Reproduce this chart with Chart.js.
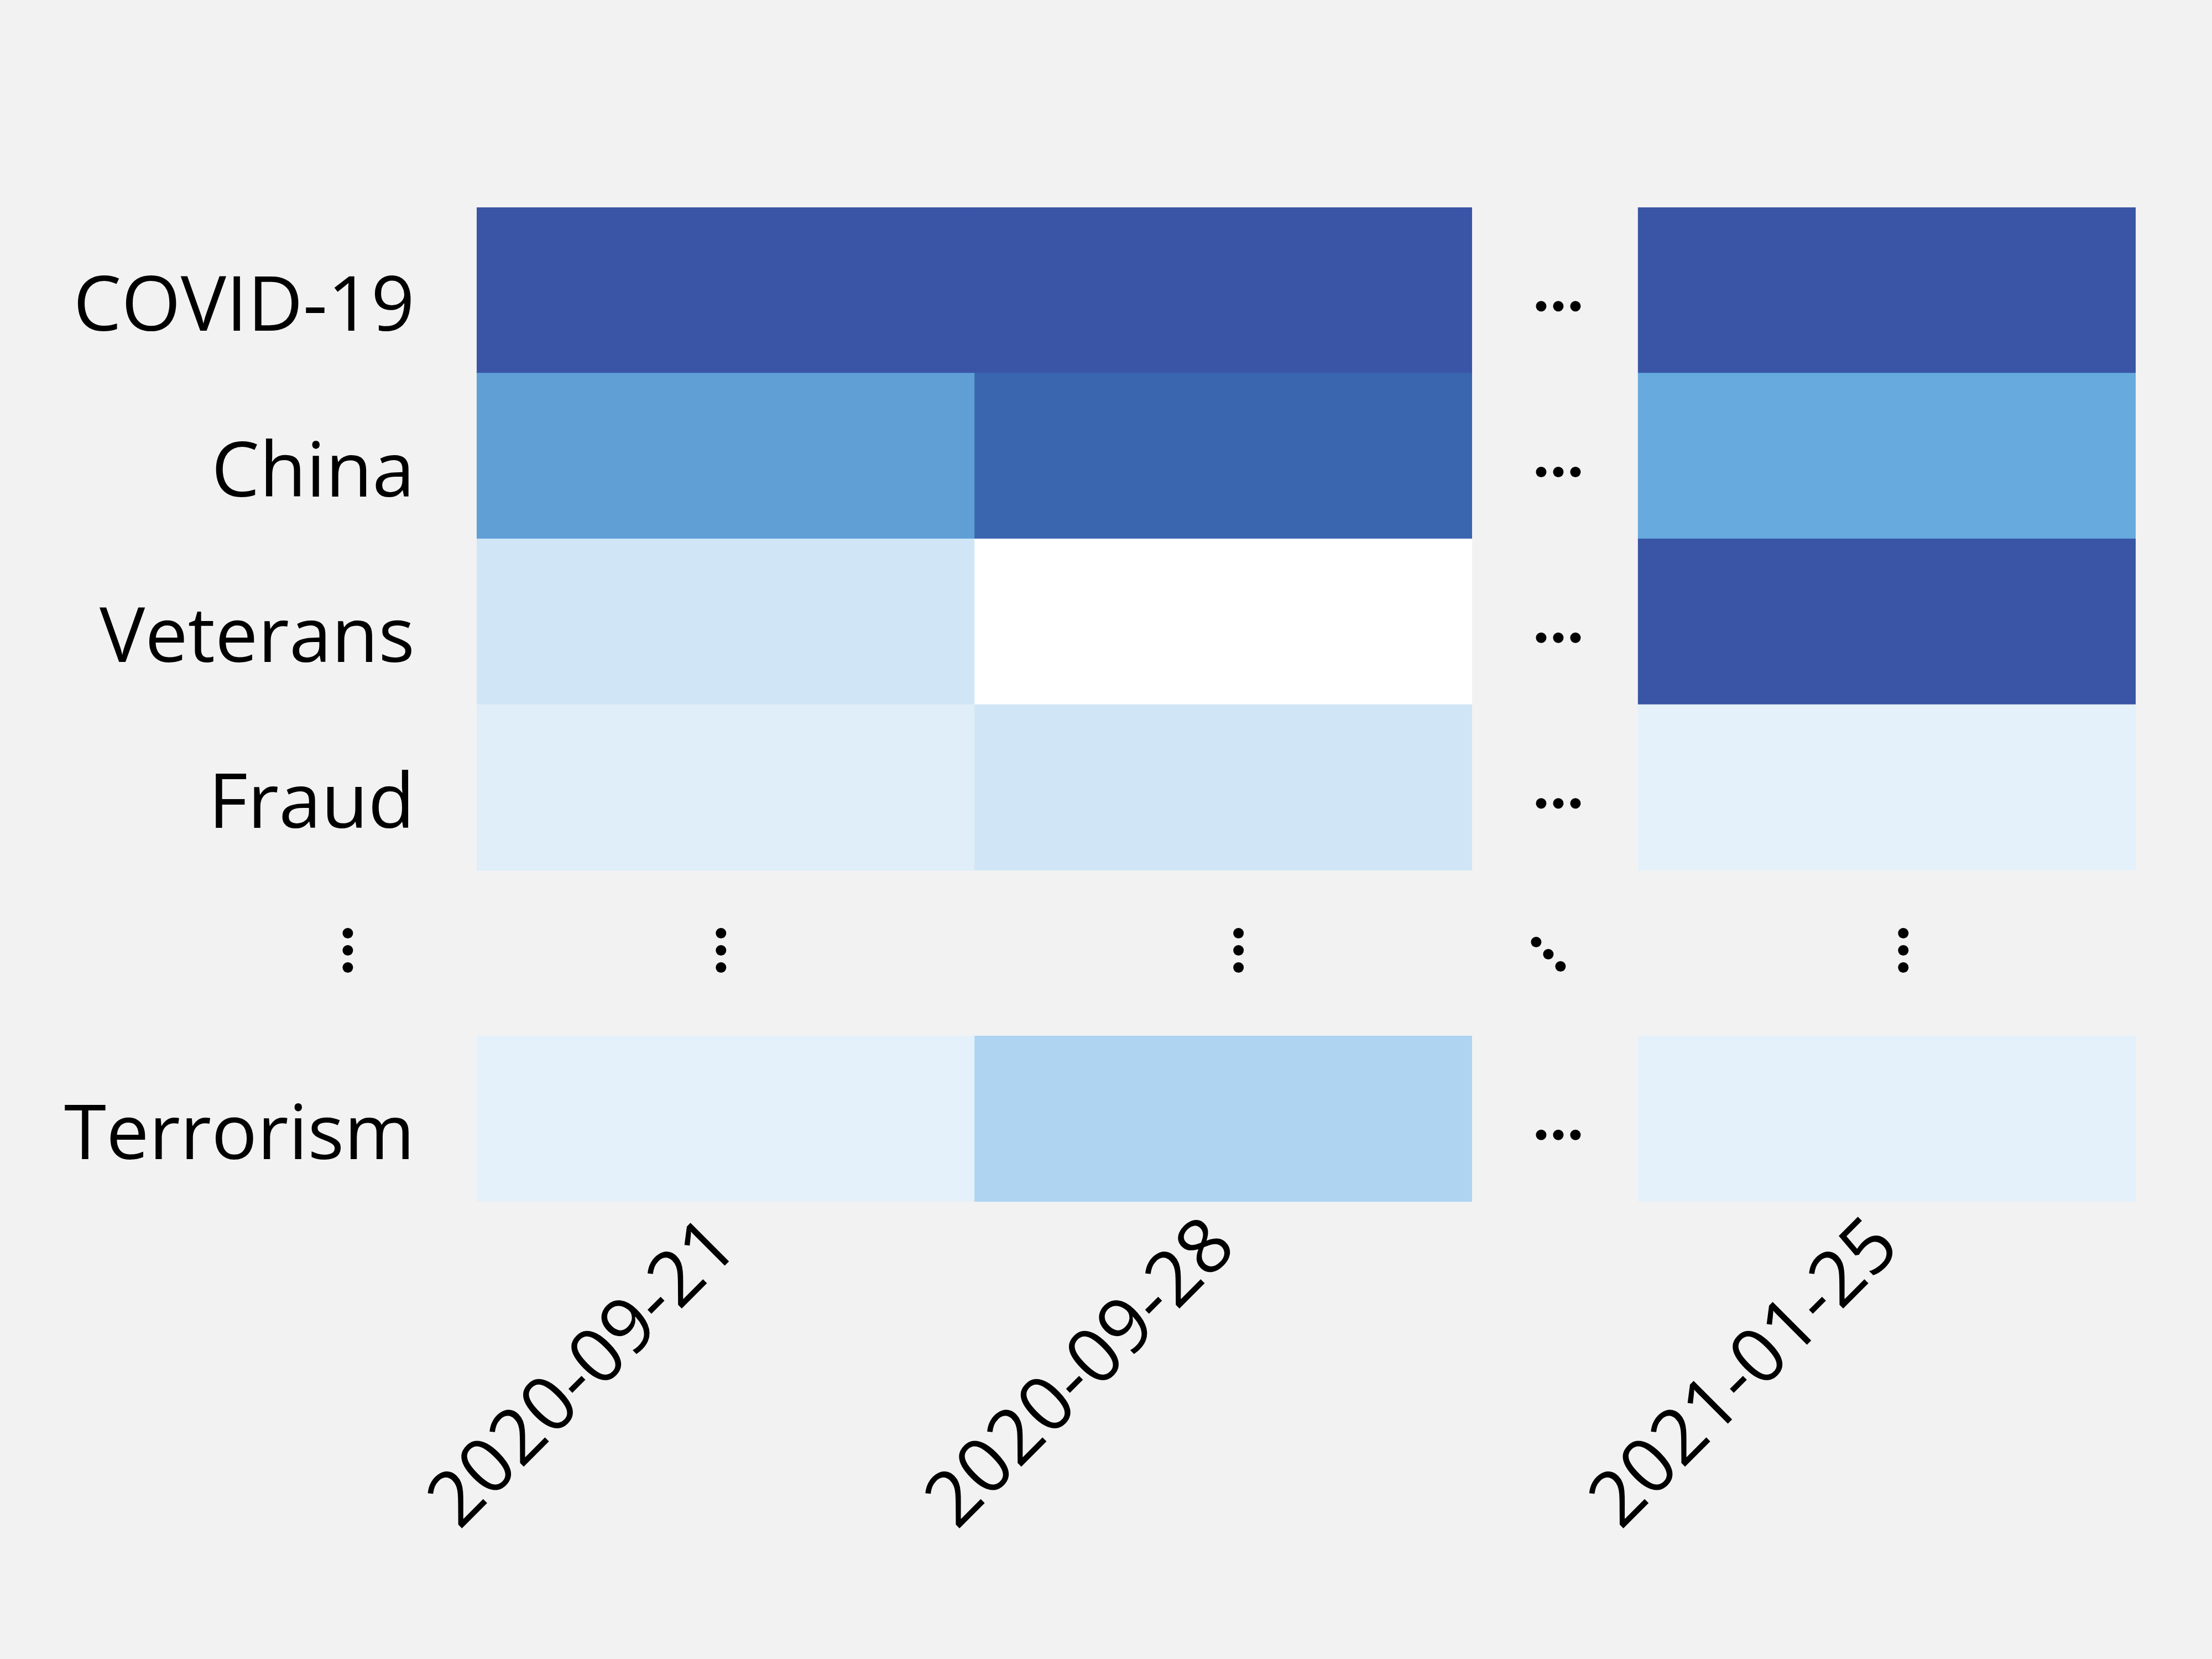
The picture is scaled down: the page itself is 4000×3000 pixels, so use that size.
<!DOCTYPE html>
<html>
<head>
<meta charset="utf-8">
<script src="https://cdn.jsdelivr.net/npm/chart.js@4.4.1/dist/chart.umd.min.js"></script>
<style>
  html, body { margin: 0; padding: 0; background: #F2F2F2; }
  #wrap { width: 4000px; height: 3000px; }
</style>
</head>
<body>
<div id="wrap"><canvas id="c" width="4000" height="3000"></canvas></div>
<script>
// ---- data ----
const topics = ['COVID-19', 'China', 'Veterans', 'Fraud', '', 'Terrorism'];
const weeks = ['2020-09-21', '2020-09-28', '2021-01-25'];
// relative intensity per topic (null = elided row)
const week_2020_09_21 = [1.00, 0.59, 0.20, 0.13, null, 0.10];
const week_2020_09_28 = [1.00, 0.80, 0.00, 0.20, null, 0.35];
const week_2021_01_25 = [1.00, 0.55, 1.00, 0.10, null, 0.10];
const weekValues = [week_2020_09_21, week_2020_09_28, week_2021_01_25];

// ---- styling ----
const colorStops = [
  [0.00, [255, 255, 255]],
  [0.10, [229, 241, 250]],
  [0.20, [208, 230, 246]],
  [0.35, [174, 212, 241]],
  [0.55, [102, 170, 222]],
  [0.80, [58, 102, 175]],
  [1.00, [58, 85, 166]]
];
function cmap(v) {
  for (let k = 1; k < colorStops.length; k++) {
    const [v1, c1] = colorStops[k];
    const [v0, c0] = colorStops[k - 1];
    if (v <= v1) {
      const t = (v - v0) / (v1 - v0);
      const c = c0.map((a, j) => Math.round(a + (c1[j] - a) * t));
      return `rgb(${c[0]},${c[1]},${c[2]})`;
    }
  }
  const c = colorStops[colorStops.length - 1][1];
  return `rgb(${c[0]},${c[1]},${c[2]})`;
}
const GAP = 0.334;               // width of the elided-columns gap, in column units
const colStart = i => i + (i >= 2 ? GAP : 0);
const X_MAX = colStart(weeks.length - 1) + 1;
const FONT = { family: "'Open Sans', 'DejaVu Sans', sans-serif", size: 138 };

const datasets = weekValues.map((vals, i) => ({
  label: weeks[i],
  data: vals.map(v => v == null ? null : [colStart(i), colStart(i) + 1]),
  backgroundColor: vals.map(v => v == null ? 'rgba(0,0,0,0)' : cmap(v)),
  borderWidth: 0,
  barPercentage: 1,
  categoryPercentage: 1,
  grouped: false
}));

const ELL_ROW = topics.indexOf('');
const dotsPlugin = {
  id: 'dots',
  afterDatasetsDraw(chart) {
    const { ctx, scales: { x, y } } = chart;
    const R = 9.5, S = 31;
    ctx.save();
    ctx.fillStyle = '#000';
    const dot = (px, py) => { ctx.beginPath(); ctx.arc(px, py, R, 0, Math.PI * 2); ctx.fill(); };
    const gapX = x.getPixelForValue(colStart(1) + 1 + GAP * 0.52);
    // horizontal ellipses in the gap column
    topics.forEach((t, i) => {
      if (i === ELL_ROW) return;
      const cy = y.getPixelForValue(i) + 29;
      for (let k = -1; k <= 1; k++) dot(gapX + k * S, cy);
    });
    // vertical ellipses in the elided row
    const ey = y.getPixelForValue(ELL_ROW) - 5;
    const vx = [-0.259, colStart(0) + 0.491, colStart(1) + 0.531, colStart(2) + 0.533];
    vx.forEach(xv => {
      const px = x.getPixelForValue(xv);
      for (let k = -1; k <= 1; k++) dot(px, ey + k * S);
    });
    // diagonal ellipsis
    const dx = x.getPixelForValue(colStart(1) + 1 + GAP * 0.46);
    for (let k = -1; k <= 1; k++) dot(dx + k * 22, ey + 7 + k * 22);
    ctx.restore();
  }
};

new Chart(document.getElementById('c'), {
  type: 'bar',
  data: { labels: topics, datasets },
  plugins: [dotsPlugin],
  options: {
    indexAxis: 'y',
    responsive: false,
    animation: false,
    devicePixelRatio: 1,
    layout: { padding: { top: 375, right: 138, bottom: 0, left: 0 } },
    plugins: { legend: { display: false }, tooltip: { enabled: false } },
    scales: {
      y: {
        type: 'category',
        grid: { display: false, drawTicks: false },
        border: { display: false },
        ticks: { color: '#000', font: FONT, padding: 112, labelOffset: 34 },
        afterFit: s => { s.width = 862; }
      },
      x: {
        type: 'linear',
        min: 0,
        max: X_MAX,
        grid: { display: false, drawTicks: false },
        border: { display: false },
        afterBuildTicks: s => { s.ticks = weeks.map((w, i) => ({ value: colStart(i) + 0.5 })); },
        ticks: {
          autoSkip: false,
          minRotation: 45,
          maxRotation: 45,
          padding: 0,
          color: '#000',
          font: FONT,
          callback: (v, i) => weeks[i]
        },
        afterFit: s => { s.height = 827; }
      }
    }
  }
});
</script>
</body>
</html>
